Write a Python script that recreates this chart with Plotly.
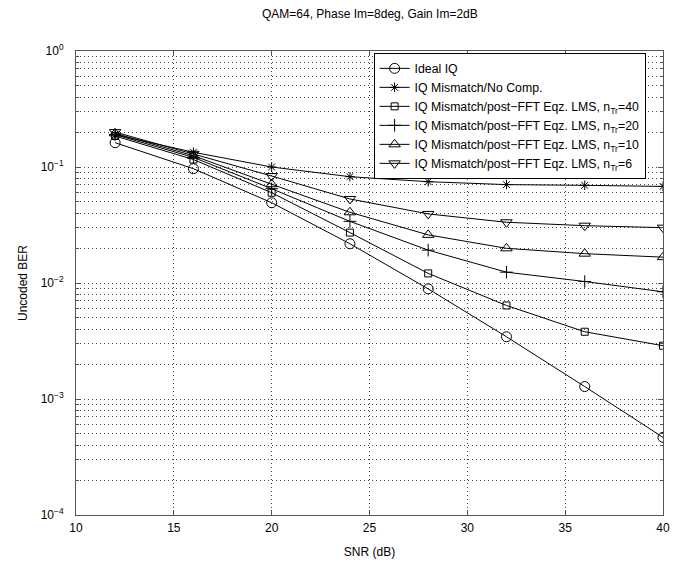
import plotly.graph_objects as go

snr = [12, 16, 20, 24, 28, 32, 36, 40]
ber_ideal = [0.162, 0.0967, 0.0492, 0.0218, 0.0089, 0.00344, 0.00128, 0.000467]
ber_nocomp = [0.19, 0.134, 0.100, 0.0825, 0.0747, 0.0705, 0.0695, 0.068]
ber_ntr40 = [0.185, 0.116, 0.060, 0.0272, 0.0121, 0.0064, 0.0038, 0.00288]
ber_ntr20 = [0.19, 0.121, 0.065, 0.034, 0.0192, 0.0124, 0.0103, 0.0084]
ber_ntr10 = [0.195, 0.125, 0.071, 0.0407, 0.026, 0.0199, 0.0179, 0.0167]
ber_ntr6 = [0.20, 0.13, 0.0836, 0.053, 0.0394, 0.0334, 0.0312, 0.030]

names = [
    "Ideal IQ",
    "IQ Mismatch/No Comp.",
    "IQ Mismatch/post\u2212FFT Eqz. LMS, n<sub>Tr</sub>=40",
    "IQ Mismatch/post\u2212FFT Eqz. LMS, n<sub>Tr</sub>=20",
    "IQ Mismatch/post\u2212FFT Eqz. LMS, n<sub>Tr</sub>=10",
    "IQ Mismatch/post\u2212FFT Eqz. LMS, n<sub>Tr</sub>=6",
]
series = [ber_ideal, ber_nocomp, ber_ntr40, ber_ntr20, ber_ntr10, ber_ntr6]
symbols = ["circle-open", "asterisk-open", "square-open", "cross-thin-open",
           "triangle-up-open", "triangle-down-open"]
sizes = [10, 8, 7, 9, 10, 10]

ytickvals = [1e-4, 1e-3, 1e-2, 1e-1, 1]
yticktext = ["10<sup>\u22124</sup>", "10<sup>\u22123</sup>", "10<sup>\u22122</sup>",
             "10<sup>\u22121</sup>", "10<sup>0</sup>"]
yminorvals = [m * 10.0 ** e for e in range(-4, 0) for m in range(2, 10)]
xtickvals = [10, 15, 20, 25, 30, 35, 40]

fig = go.Figure()
for nm, ys, sym, sz in zip(names, series, symbols, sizes):
    fig.add_trace(go.Scatter(
        x=snr, y=ys, name=nm, mode="lines+markers",
        line=dict(color="black", width=1),
        marker=dict(symbol=sym, size=sz, color="black",
                    line=dict(color="black", width=1)),
    ))

grid_dash = "1px,3px"
grid_col = "#444"
font = dict(family="Liberation Sans, Arial, sans-serif", size=12, color="black")
fig.update_layout(
    width=685, height=562,
    margin=dict(l=76, r=22, t=51, b=47),
    paper_bgcolor="white", plot_bgcolor="white",
    font=font,
    title=dict(text="QAM=64, Phase Im=8deg, Gain Im=2dB", x=0.54, xanchor="center",
               y=1 - 14 / 562, yanchor="middle", font=dict(size=12)),
    showlegend=True,
    legend=dict(x=0.507, y=0.996, xanchor="left", yanchor="top",
                bgcolor="white", bordercolor="black", borderwidth=1,
                font=dict(size=12.3), tracegroupgap=0, itemwidth=30),
    xaxis=dict(
        range=[10, 40], tickvals=xtickvals, showline=True, linecolor="#555",
        mirror="allticks", ticks="inside", ticklen=5, tickcolor="#555",
        ticklabelstandoff=2, automargin=False,
        showgrid=True, gridcolor=grid_col, griddash=grid_dash, gridwidth=1,
        zeroline=False,
        title=dict(text="SNR (dB)", standoff=13, font=dict(size=12)),
    ),
    yaxis=dict(
        type="log", range=[-4, 0], tickvals=ytickvals, ticktext=yticktext,
        showline=True, linecolor="#555", mirror="allticks", ticks="inside",
        ticklen=5, tickcolor="#555", ticklabelstandoff=9, automargin=False,
        showgrid=True, gridcolor=grid_col, griddash=grid_dash, gridwidth=1,
        zeroline=False,
        minor=dict(tickmode="array", tickvals=yminorvals,
                   ticks="inside", ticklen=3, tickcolor="#555",
                   showgrid=True, gridcolor=grid_col, griddash=grid_dash, gridwidth=1),
        title=dict(text="Uncoded BER", standoff=10, font=dict(size=12)),
    ),
)

fig.write_html("out.html")
